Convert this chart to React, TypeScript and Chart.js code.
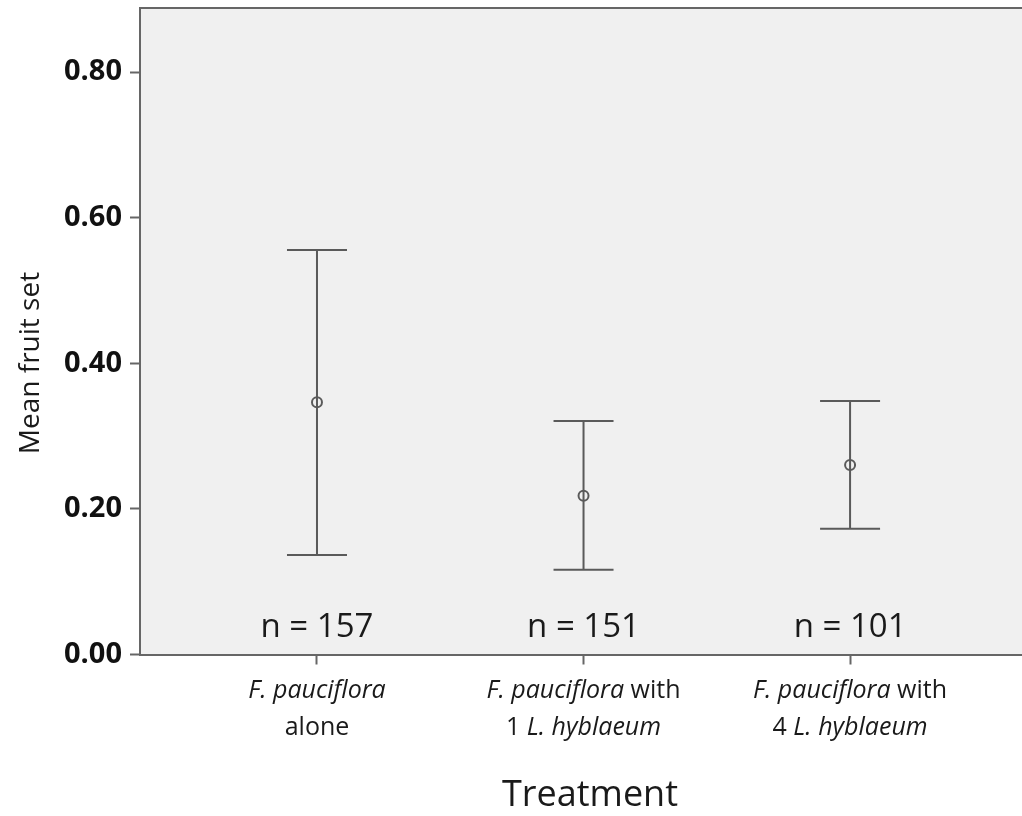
import React, { useEffect, useRef } from "react";
import { Chart, registerables } from "chart.js";

Chart.register(...registerables);

// ---- data ----
type Seg = { t: string; i?: boolean };
const categoryLabels: Seg[][][] = [
  [[{ t: "F. pauciflora", i: true }], [{ t: "alone" }]],
  [[{ t: "F. pauciflora", i: true }, { t: " with" }], [{ t: "1 " }, { t: "L. hyblaeum", i: true }]],
  [[{ t: "F. pauciflora", i: true }, { t: " with" }], [{ t: "4 " }, { t: "L. hyblaeum", i: true }]],
];
const categoryPositions = [1, 2, 3];
const nLabels = ["n = 157", "n = 151", "n = 101"];
const means = [0.3465, 0.2182, 0.2603];
const lowers = [0.1367, 0.1165, 0.1728];
const uppers = [0.5557, 0.3207, 0.3483];
const yTicks = [0, 0.2, 0.4, 0.6, 0.8];
const yMin = 0;
const yMax = 0.888;
const xMin = 0.336;
const xMax = 3.645;
const yTitle = "Mean fruit set";
const xTitle = "Treatment";

const FONT = "'Open Sans', Lato, sans-serif";
const TEXT = "#1a1a1a";
const LINE = "#5a5a5a";

const customPlugin = {
  id: "custom",
  beforeDraw(chart: any) {
    const { ctx, chartArea } = chart;
    ctx.save();
    ctx.fillStyle = "#f0f0f0";
    ctx.fillRect(chartArea.left, chartArea.top, chartArea.right - chartArea.left, chartArea.bottom - chartArea.top);
    ctx.restore();
  },
  beforeDatasetsDraw(chart: any) {
    const { ctx } = chart;
    const xs = chart.scales.x;
    const ys = chart.scales.y;
    ctx.save();
    ctx.strokeStyle = LINE;
    ctx.lineWidth = 2;
    categoryPositions.forEach((c, i) => {
      const x = xs.getPixelForValue(c);
      const yl = ys.getPixelForValue(lowers[i]);
      const yu = ys.getPixelForValue(uppers[i]);
      ctx.beginPath();
      ctx.moveTo(x, yl);
      ctx.lineTo(x, yu);
      ctx.moveTo(x - 30, yl);
      ctx.lineTo(x + 30, yl);
      ctx.moveTo(x - 30, yu);
      ctx.lineTo(x + 30, yu);
      ctx.stroke();
    });
    ctx.restore();
  },
  afterDraw(chart: any) {
    const { ctx, chartArea } = chart;
    const xs = chart.scales.x;
    ctx.save();
    // top frame line
    ctx.strokeStyle = "#666";
    ctx.lineWidth = 2;
    ctx.beginPath();
    ctx.moveTo(chartArea.left - 1, chartArea.top);
    ctx.lineTo(chartArea.right, chartArea.top);
    ctx.stroke();

    // n labels
    ctx.fillStyle = TEXT;
    ctx.textAlign = "center";
    ctx.textBaseline = "middle";
    ctx.font = `33px ${FONT}`;
    categoryPositions.forEach((c, i) => {
      ctx.fillText(nLabels[i], xs.getPixelForValue(c), chartArea.bottom - 27);
    });

    // category labels with mixed italic
    const size = 25;
    const lineYs = [chartArea.bottom + 36, chartArea.bottom + 73];
    ctx.textAlign = "left";
    categoryPositions.forEach((c, i) => {
      const cx = xs.getPixelForValue(c);
      categoryLabels[i].forEach((line, li) => {
        let total = 0;
        line.forEach((s) => {
          ctx.font = `${s.i ? "italic " : ""}${size}px ${FONT}`;
          total += ctx.measureText(s.t).width;
        });
        let x = cx - total / 2;
        line.forEach((s) => {
          ctx.font = `${s.i ? "italic " : ""}${size}px ${FONT}`;
          ctx.fillText(s.t, x, lineYs[li]);
          x += ctx.measureText(s.t).width;
        });
      });
    });

    // axis titles
    ctx.textAlign = "center";
    ctx.font = `36px ${FONT}`;
    ctx.fillText(xTitle, 590, 796);
    ctx.save();
    ctx.translate(31, 363);
    ctx.rotate(-Math.PI / 2);
    ctx.font = `28px ${FONT}`;
    ctx.fillText(yTitle, 0, 0);
    ctx.restore();
    ctx.restore();
  },
};

export default function App() {
  const ref = useRef<HTMLCanvasElement>(null);
  useEffect(() => {
    if (!ref.current) return;
    const chart = new Chart(ref.current, {
      type: "scatter",
      data: {
        datasets: [
          {
            data: categoryPositions.map((c, i) => ({ x: c, y: means[i] })),
            pointRadius: 5,
            pointHoverRadius: 5,
            borderColor: LINE,
            borderWidth: 2,
            backgroundColor: "rgba(0,0,0,0)",
            showLine: false,
          },
        ],
      },
      options: {
        responsive: false,
        animation: false,
        devicePixelRatio: 1,
        layout: { autoPadding: false, padding: { top: 8, left: 0, right: 0, bottom: 0 } },
        plugins: { legend: { display: false }, tooltip: { enabled: false } },
        scales: {
          x: {
            type: "linear",
            min: xMin,
            max: xMax,
            afterBuildTicks: (s: any) => {
              s.ticks = categoryPositions.map((v) => ({ value: v }));
            },
            afterFit: (s: any) => {
              s.height = 161.5;
              s.paddingLeft = 0;
              s.paddingRight = 0;
            },
            ticks: { display: false },
            grid: { display: true, drawOnChartArea: false, drawTicks: true, tickLength: 10, tickWidth: 2, color: "#666" },
            border: { display: true, color: "#666", width: 2 },
          },
          y: {
            type: "linear",
            min: yMin,
            max: yMax,
            afterBuildTicks: (s: any) => {
              s.ticks = yTicks.map((v) => ({ value: v }));
            },
            afterFit: (s: any) => {
              s.width = 140;
              s.paddingTop = 0;
              s.paddingBottom = 0;
            },
            ticks: {
              callback: (v: any) => Number(v).toFixed(2),
              font: { family: FONT, weight: "bold", size: 29 },
              color: "#111",
              padding: 8,
            },
            grid: { display: true, drawOnChartArea: false, drawTicks: true, tickLength: 10, tickWidth: 2, color: "#666" },
            border: { display: true, color: "#666", width: 2 },
          },
        },
      },
      plugins: [customPlugin],
    });
    return () => chart.destroy();
  }, []);
  return (
    <div style={{ position: "fixed", left: 0, top: 0, width: 1022, height: 816, background: "#fff" }}>
      <canvas ref={ref} width={1022} height={816} />
    </div>
  );
}
